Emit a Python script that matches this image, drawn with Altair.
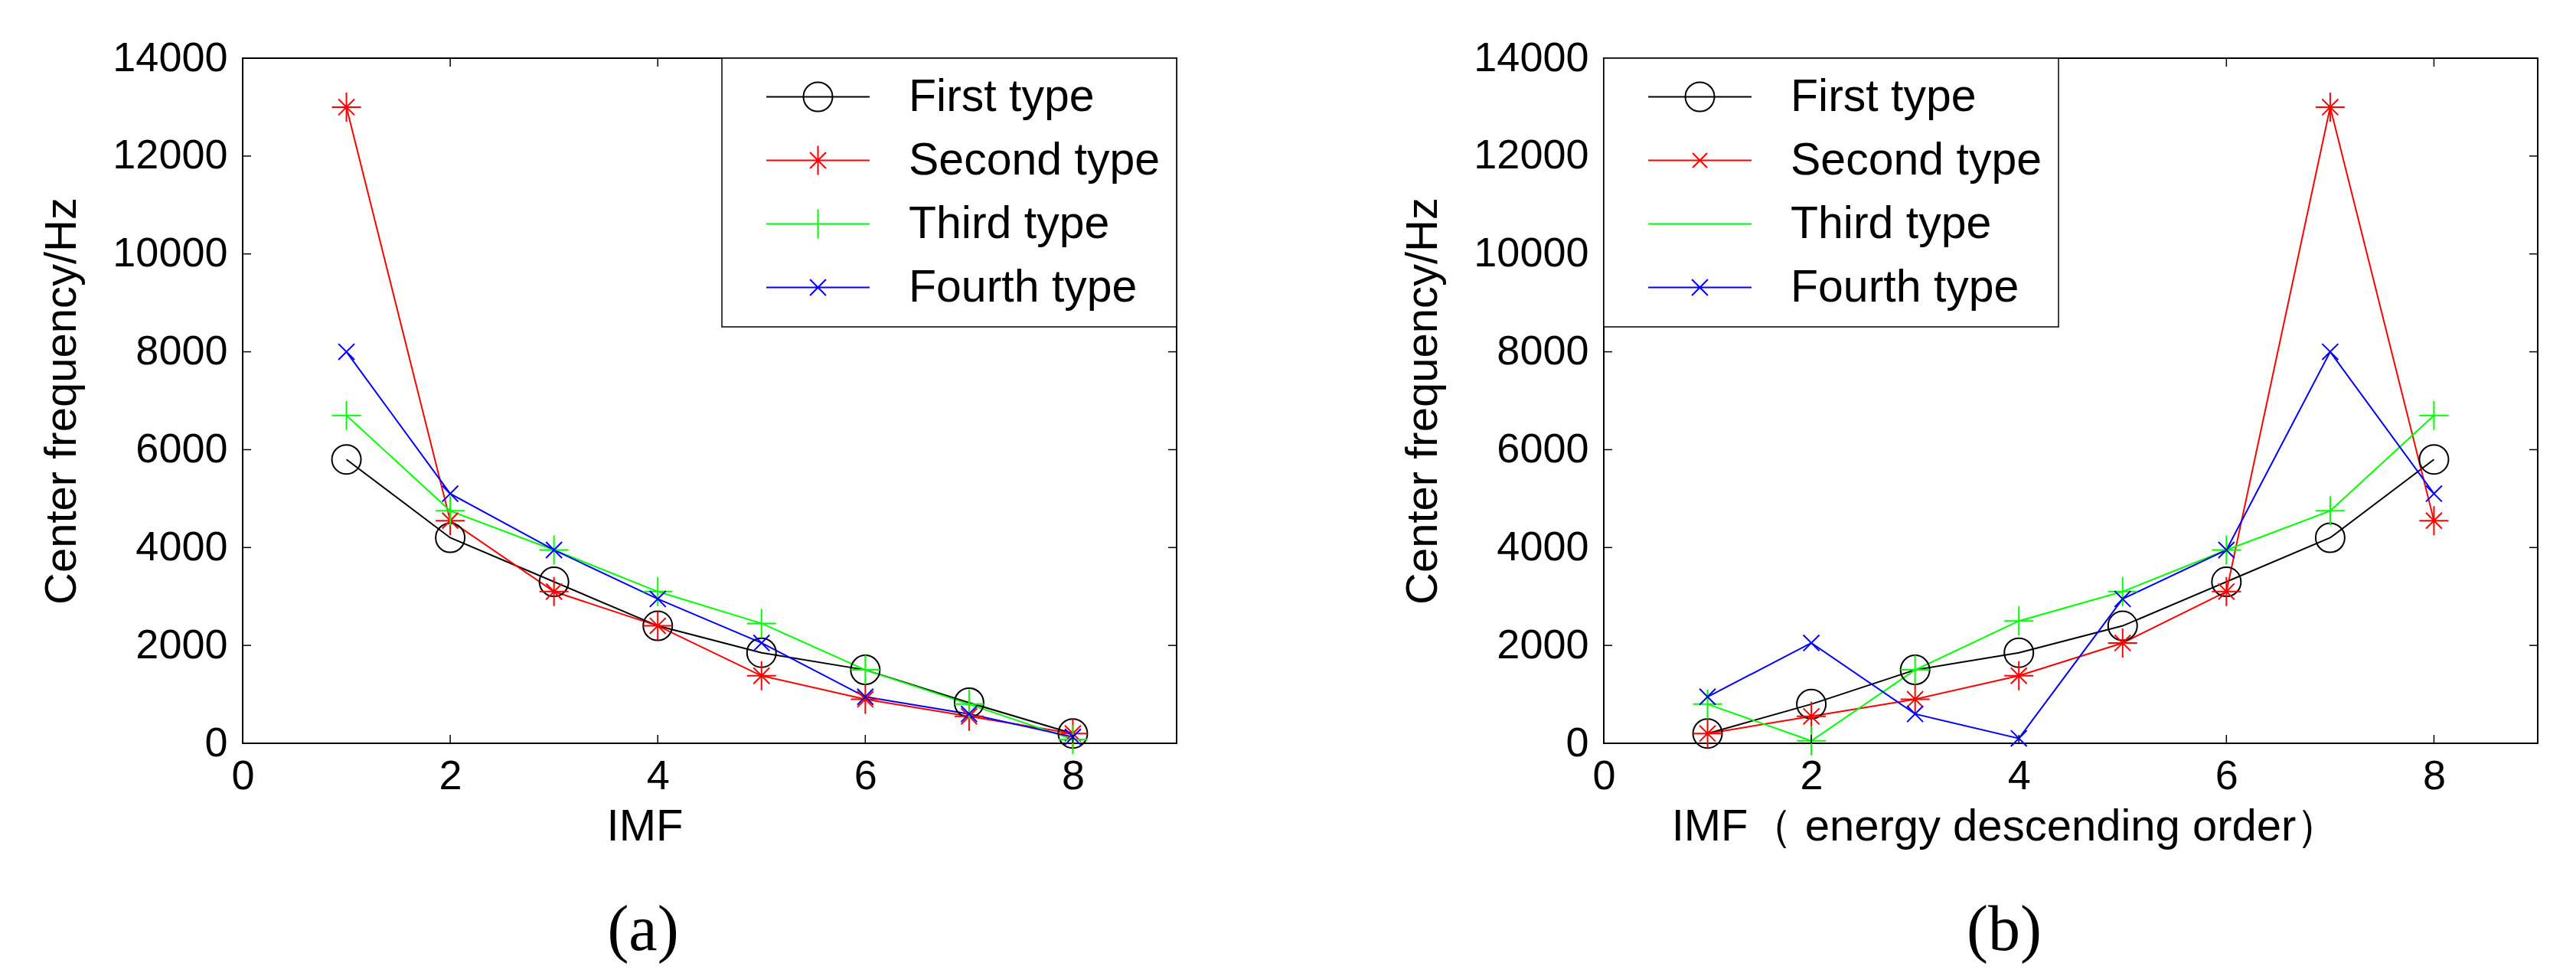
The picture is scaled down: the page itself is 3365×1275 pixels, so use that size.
import altair as alt
import pandas as pd

# ---------------- data ----------------
imf = [1, 2, 3, 4, 5, 6, 7, 8]
series = ["First type", "Second type", "Third type", "Fourth type"]

a_first = [5800, 4200, 3300, 2400, 1850, 1500, 830, 200]
a_second = [13000, 4550, 3100, 2400, 1380, 900, 550, 200]
a_third = [6700, 4750, 3950, 3100, 2450, 1500, 800, 80]
a_fourth = [8000, 5100, 3950, 2950, 2050, 950, 600, 130]

b_first = [200, 800, 1500, 1850, 2400, 3300, 4200, 5800]
b_second = [200, 550, 900, 1380, 2050, 3100, 13000, 4550]
b_third = [800, 50, 1500, 2500, 3100, 3950, 4750, 6700]
b_fourth = [950, 2050, 600, 100, 2950, 3950, 8000, 5100]

x_ticks = [0, 2, 4, 6, 8]
y_ticks = [0, 2000, 4000, 6000, 8000, 10000, 12000, 14000]

colors = ["#000000", "#ff0000", "#00ff00", "#0000ff"]

# marker paths (unit = sqrt(size)/2)
marker_paths = [
    "M1,0A1,1 0 1,1 -1,0A1,1 0 1,1 1,0",
    "M0,-1L0,1M-1,0L1,0M-0.55,-0.55L0.55,0.55M-0.55,0.55L0.55,-0.55",
    "M0,-1L0,1M-1,0L1,0",
    "M-0.55,-0.55L0.55,0.55M-0.55,0.55L0.55,-0.55",
]
L = "M-3.55,0L3.55,0"
legend_paths_a = [
    L + "M1,0A1,1 0 1,1 -1,0A1,1 0 1,1 1,0",
    L + "M0,-1L0,1M-0.55,-0.55L0.55,0.55M-0.55,0.55L0.55,-0.55",
    L + "M0,-1L0,1",
    L + "M-0.55,-0.55L0.55,0.55M-0.55,0.55L0.55,-0.55",
]
legend_paths_b = [
    L + "M1,0A1,1 0 1,1 -1,0A1,1 0 1,1 1,0",
    L + "M-0.5,-0.5L0.5,0.5M-0.5,0.5L0.5,-0.5",
    L,
    L + "M-0.55,-0.55L0.55,0.55M-0.55,0.55L0.55,-0.55",
]

W, H = 1220, 895
FONT = "Liberation Sans"


def long_df(cols):
    rows = []
    for s, vals in zip(series, cols):
        for xi, v in zip(imf, vals):
            rows.append({"x": xi, "y": v, "series": s})
    return pd.DataFrame(rows)


def panel(cols, xtitle, caption, legend_paths, legend_orient):
    df = long_df(cols)
    xs = alt.Scale(domain=[0, 9], nice=False, zero=False)
    ys = alt.Scale(domain=[0, 14000], nice=False)
    xaxis = alt.Axis(values=x_ticks, title=xtitle, grid=False, ticks=False, domain=False,
                     labelFontSize=54, labelFont=FONT, labelColor="black", labelPadding=16,
                     titleFontSize=58, titleFont=FONT, titleFontWeight="normal",
                     titleColor="black", titlePadding=10, titleX=525, labelFlush=False)
    yaxis = alt.Axis(values=y_ticks, format="d", title="Center frequency/Hz", grid=False,
                     ticks=False, domain=False, labelFontSize=54, labelFont=FONT,
                     labelColor="black", labelPadding=20, titleFontSize=58, titleFont=FONT,
                     titleFontWeight="normal", titleColor="black", titlePadding=36,
                     labelFlush=False)
    cscale = alt.Scale(domain=series, range=colors)
    X = lambda f: alt.X(f, scale=xs, axis=xaxis)
    Y = lambda f: alt.Y(f, scale=ys, axis=yaxis)

    base = alt.Chart(df)
    lines = base.mark_line(strokeWidth=2).encode(
        x=X("x:Q"), y=Y("y:Q"),
        color=alt.Color("series:N", scale=cscale, legend=None),
        detail="series:N",
        order="x:Q",
    )
    points = base.mark_point(filled=False, strokeWidth=2, size=1444, opacity=1).encode(
        x=X("x:Q"), y=Y("y:Q"),
        color=alt.Color("series:N", scale=cscale, legend=None),
        shape=alt.Shape("series:N", scale=alt.Scale(domain=series, range=marker_paths),
                        legend=None),
    )
    leg = alt.Legend(title=None, orient=legend_orient, offset=0, padding=21, rowPadding=23,
                     labelFontSize=59, labelFont=FONT, labelColor="black", labelLimit=2000,
                     symbolSize=1444, symbolStrokeWidth=2, symbolOffset=75, labelOffset=89,
                     fillColor="white", strokeColor="black", symbolOpacity=1)
    legend_layer = base.transform_filter("datum.x < 0").mark_point(
        filled=False, strokeWidth=2, size=1444).encode(
        x=X("x:Q"), y=Y("y:Q"),
        color=alt.Color("series:N", scale=cscale, legend=leg),
        shape=alt.Shape("series:N", scale=alt.Scale(domain=series, range=legend_paths),
                        legend=leg),
    )
    ydf = alt.Chart(pd.DataFrame({"x": [0] * len(y_ticks), "y": y_ticks}))
    xdf = alt.Chart(pd.DataFrame({"x": x_ticks, "y": [0] * len(x_ticks)}))
    tl = ydf.mark_rule(color="black", strokeWidth=1.5).encode(
        y=Y("y:Q"), x=alt.value(0), x2=alt.value(11))
    tr = ydf.mark_rule(color="black", strokeWidth=1.5).encode(
        y=Y("y:Q"), x=alt.value(W - 11), x2=alt.value(W))
    tb = xdf.mark_rule(color="black", strokeWidth=1.5).encode(
        x=X("x:Q"), y=alt.value(H - 11), y2=alt.value(H))
    tt = xdf.mark_rule(color="black", strokeWidth=1.5).encode(
        x=X("x:Q"), y=alt.value(0), y2=alt.value(11))

    return alt.layer(lines, points, tl, tr, tb, tt, legend_layer).resolve_scale(
        color="independent", shape="independent"
    ).properties(
        width=W, height=H,
        title=alt.TitleParams(text=caption, orient="bottom", anchor="middle", dx=-87,
                              font="Liberation Serif", fontSize=84, fontWeight="normal",
                              color="black", offset=66),
    )


pa = panel([a_first, a_second, a_third, a_fourth], "IMF", "(a)", legend_paths_a, "top-right")
pb = panel([b_first, b_second, b_third, b_fourth], "IMF（ energy descending order）", "(b)",
           legend_paths_b, "top-left")

chart = alt.hconcat(pa, pb, spacing=290).properties(
    padding={"left": 43, "top": 40, "right": 5, "bottom": 5}
).configure_view(stroke="black", strokeWidth=2).configure_legend(strokeWidth=1.5)

chart.save("out.html", embed_options={"renderer": "svg", "actions": False})
